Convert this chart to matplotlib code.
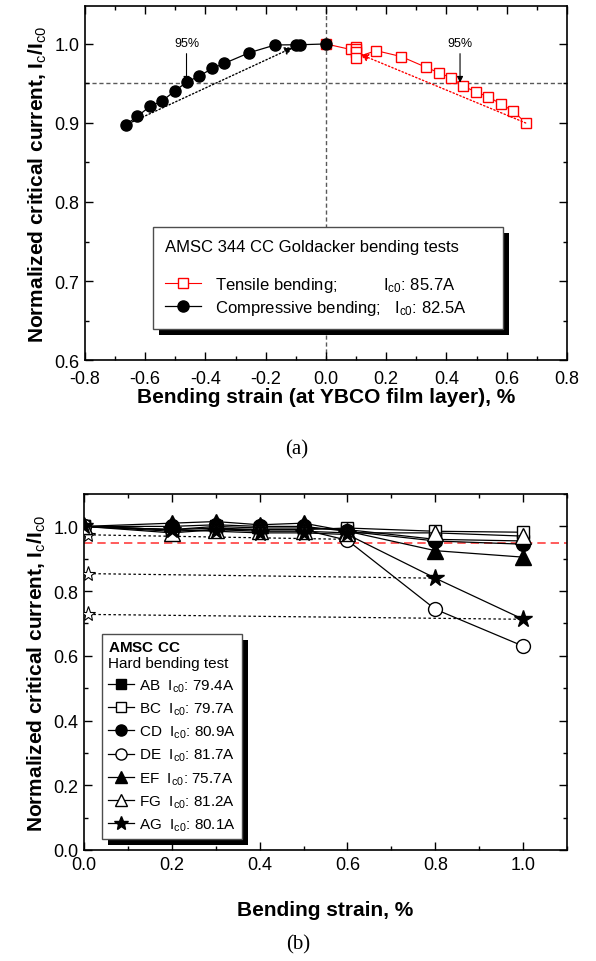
import numpy as np
import matplotlib
matplotlib.use("Agg")
import matplotlib.pyplot as plt
from matplotlib.ticker import MultipleLocator
from matplotlib.patches import Rectangle

plt.rcParams["font.family"] = ["Liberation Sans", "DejaVu Sans"]
plt.rcParams["mathtext.fontset"] = "custom"
plt.rcParams["mathtext.rm"] = "Liberation Sans"
plt.rcParams["mathtext.it"] = "Liberation Sans"
plt.rcParams["mathtext.bf"] = "Liberation Sans:bold"

# (a) Goldacker bending tests
comp_strain = [-0.665, -0.626, -0.584, -0.543, -0.502, -0.461, -0.420, -0.378,
               -0.337, -0.254, -0.169, -0.100, -0.086, 0.0]
comp_ic = [0.8975, 0.9085, 0.921, 0.928, 0.9405, 0.952, 0.9595, 0.969,
           0.9755, 0.989, 0.9987, 0.999, 0.999, 1.0]
tens_strain = [0.0, 0.082, 0.099, 0.099, 0.099, 0.099, 0.166, 0.250, 0.332,
               0.374, 0.416, 0.456, 0.498, 0.539, 0.580, 0.622, 0.663]
tens_ic = [1.0, 0.993, 0.9966, 0.993, 0.9895, 0.9827, 0.9916, 0.984, 0.9705,
           0.9637, 0.957, 0.9468, 0.939, 0.9333, 0.924, 0.915, 0.900]

# (b) hard bending tests
hb_strain = [0.0, 0.2, 0.3, 0.4, 0.5, 0.6, 0.8, 1.0]
hb_names = ["AB", "BC", "CD", "DE", "EF", "FG", "AG"]
hb_ic0 = ["79.4A", "79.7A", "80.9A", "81.7A", "75.7A", "81.2A", "80.1A"]
hb_AB = [1.0, 0.99, 1.0, 0.995, 0.995, 0.99, 0.96, 0.955]
hb_BC = [1.0, 0.985, 0.99, 0.99, 0.99, 0.995, 0.985, 0.982]
hb_CD = [1.0, 1.0, 1.005, 1.0, 1.0, 0.985, 0.955, 0.945]
hb_DE = [1.0, 0.99, 0.995, 0.99, 0.99, 0.957, 0.744, 0.63]
hb_EF = [1.0, 1.01, 1.015, 1.005, 1.01, 0.985, 0.925, 0.905]
hb_FG = [1.0, 0.98, 0.99, 0.985, 0.985, 0.98, 0.98, 0.97]
hb_AG = [1.0, 0.99, 0.985, 0.98, 0.98, 0.975, 0.84, 0.713]
star_start = [0.974, 0.854, 0.728]
star_end_x = [0.6, 0.8, 1.0]
star_end_y = [0.96, 0.84, 0.713]

fig = plt.figure(figsize=(5.96, 9.62), dpi=100)

# ---------- panel (a)
ax1 = fig.add_axes([0.1426, 0.6247, 0.8087, 0.368])
ax1.axhline(0.95, color="0.35", ls=(0, (3, 2)), lw=1, zorder=1)
ax1.axvline(0.0, color="0.35", ls=(0, (3, 2)), lw=1, zorder=1)
ax1.plot(tens_strain, tens_ic, "-s", color="red", mfc="white", mec="red",
         ms=7, lw=0.8, label="Tensile bending;          I$_{c0}$: 85.7A", zorder=3)
ax1.plot(comp_strain, comp_ic, "-o", color="black", ms=8, lw=0.9,
         label="Compressive bending;   I$_{c0}$: 82.5A", zorder=4)

ax1.annotate("", xy=(-0.11, 0.9955), xytext=(comp_strain[0], comp_ic[0]),
             arrowprops=dict(arrowstyle="-|>", color="black", ls=":", lw=1,
                             shrinkA=0, shrinkB=0, mutation_scale=12))
ax1.annotate("", xy=(0.113, 0.987), xytext=(tens_strain[-1], tens_ic[-1]),
             arrowprops=dict(arrowstyle="-|>", color="red", ls=":", lw=1,
                             shrinkA=0, shrinkB=0, mutation_scale=12))
for xa in (-0.463, 0.445):
    ax1.annotate("95%", xy=(xa, 0.951), xytext=(xa, 0.993),
                 ha="center", va="bottom", fontsize=9,
                 arrowprops=dict(arrowstyle="-|>", color="black", lw=0.8,
                                 shrinkA=1, shrinkB=0, mutation_scale=9))

ax1.set_xlim(-0.8, 0.8)
ax1.set_ylim(0.6, 1.048)
ax1.xaxis.set_major_locator(MultipleLocator(0.2))
ax1.xaxis.set_minor_locator(MultipleLocator(0.1))
ax1.yaxis.set_major_locator(MultipleLocator(0.1))
ax1.yaxis.set_minor_locator(MultipleLocator(0.05))
ax1.xaxis.set_major_formatter(lambda v, p: f"{v:.1f}")
ax1.yaxis.set_major_formatter(lambda v, p: f"{v:.1f}")
ax1.set_xlabel("Bending strain (at YBCO film layer), %", fontsize=15,
               fontweight="bold", labelpad=0)
ax1.set_ylabel("Normalized critical current, I$_c$/I$_{c0}$", fontsize=15,
               fontweight="bold", labelpad=4)
leg1 = ax1.legend(loc="upper left", bbox_to_anchor=(0.141, 0.376, 0.726, 0.0),
                  mode="expand", fontsize=12, frameon=True, fancybox=False,
                  framealpha=1, edgecolor="0.3",
                  title="AMSC 344 CC Goldacker bending tests\n",
                  title_fontsize=12, alignment="left", handlelength=2.2,
                  borderpad=0.7, labelspacing=0.25, borderaxespad=0)
fig.text(0.498, 0.532, "(a)", family="Liberation Serif", fontsize=15,
         ha="center", va="center")

# ---------- panel (b)
ax2 = fig.add_axes([0.141, 0.1154, 0.8104, 0.370])
ax2.axhline(0.95, color="#ff4040", ls=(0, (5, 3)), lw=1.2, zorder=1)
for y0, xe, ye in zip(star_start, star_end_x, star_end_y):
    ax2.plot([0.01, xe], [y0, ye], ls=(0, (2, 2)), color="black", lw=0.9,
             zorder=2)
ax2.plot([0.01] * len(star_start), star_start, ls="none", marker="*",
         mfc="white", mec="black", ms=11, mew=0.8, zorder=3)

series = [hb_AB, hb_BC, hb_CD, hb_DE, hb_EF, hb_FG, hb_AG]
markers = ["s", "s", "o", "o", "^", "^", "*"]
fills = ["black", "white", "black", "white", "black", "white", "black"]
sizes = [9, 9, 10, 10, 11, 11, 13]
for name, ic0, vals, m, fc, s in zip(hb_names, hb_ic0, series, markers, fills, sizes):
    ax2.plot(hb_strain, vals, "-", marker=m, color="black", mfc=fc,
             mec="black", ms=s, lw=0.9, mew=1,
             label=f"{name}  I$_{{c0}}$: {ic0}", zorder=4)

ax2.set_xlim(0.0, 1.1)
ax2.set_ylim(0.0, 1.1)
ax2.xaxis.set_major_locator(MultipleLocator(0.2))
ax2.xaxis.set_minor_locator(MultipleLocator(0.1))
ax2.yaxis.set_major_locator(MultipleLocator(0.2))
ax2.yaxis.set_minor_locator(MultipleLocator(0.1))
ax2.xaxis.set_major_formatter(lambda v, p: f"{v:.1f}")
ax2.yaxis.set_major_formatter(lambda v, p: f"{v:.1f}")
ax2.set_xlabel("Bending strain, %", fontsize=15, fontweight="bold", labelpad=20)
ax2.set_ylabel("Normalized critical current, I$_c$/I$_{c0}$", fontsize=15,
               fontweight="bold", labelpad=4)
leg2 = ax2.legend(loc="upper left", bbox_to_anchor=(0.037, 0.607), fontsize=11,
                  frameon=True, fancybox=False, framealpha=1, edgecolor="0.3",
                  title="$\\bf{AMSC\\ CC}$\nHard bending test", title_fontsize=11,
                  alignment="left", handlelength=1.7, handletextpad=0.3,
                  borderpad=0.4, labelspacing=0.45, borderaxespad=0,
                  markerscale=0.8)
fig.text(0.5, 0.018, "(b)", family="Liberation Serif", fontsize=15,
         ha="center", va="center")

for ax in (ax1, ax2):
    ax.tick_params(which="both", direction="in", top=True, right=True,
                   labelsize=13, width=1)
    ax.tick_params(which="major", length=6, pad=4)
    ax.tick_params(which="minor", length=3)
    for sp in ax.spines.values():
        sp.set_linewidth(1.2)
ax1.tick_params(axis="x", which="major", pad=7)

# solid black drop shadow behind each legend box
fig.canvas.draw()
for ax, leg in ((ax1, leg1), (ax2, leg2)):
    bb = leg.get_frame().get_window_extent()
    inv = ax.transAxes.inverted()
    (x0, y0), (x1, y1) = inv.transform([[bb.x0 + 6, bb.y0 - 6],
                                        [bb.x1 + 6, bb.y1 - 6]])
    ax.add_patch(Rectangle((x0, y0), x1 - x0, y1 - y0, transform=ax.transAxes,
                           facecolor="black", edgecolor="none", zorder=4.9,
                           clip_on=False))

fig.savefig("out.png", dpi=100)
